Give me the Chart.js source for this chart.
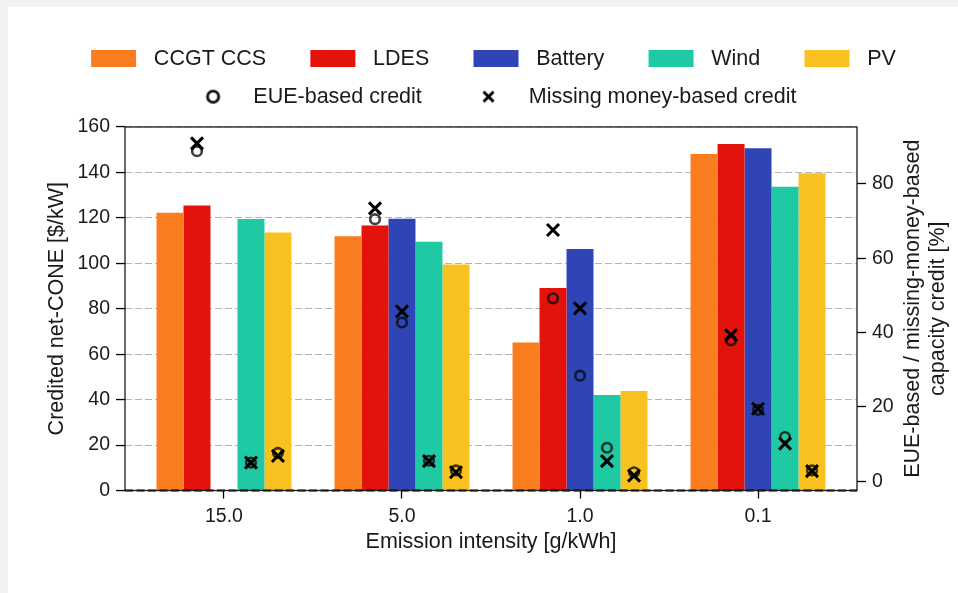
<!DOCTYPE html>
<html><head><meta charset="utf-8">
<script src="https://cdn.jsdelivr.net/npm/chart.js@4.4.1/dist/chart.umd.min.js"></script>
<style>
html,body{margin:0;padding:0;background:#f2f2f2;width:958px;height:593px;overflow:hidden}
#wrap{position:absolute;left:8px;top:7px;width:950px;height:586px;background:#fff}
canvas{display:block}
</style></head><body><div id="wrap"><canvas id="c" width="950" height="586"></canvas></div>
<script>
// ---- data ----
const categories = ['15.0', '5.0', '1.0', '0.1'];
const techNames = ['CCGT CCS', 'LDES', 'Battery', 'Wind', 'PV'];
const markerNames = ['EUE-based credit', 'Missing money-based credit'];

// credited net-CONE [$/kW]
const ccgtCone    = [122.3, 111.9, 65.1, 148.1];
const ldesCone    = [125.5, 116.6, 89.1, 152.5];
const batteryCone = [null,  119.6, 106.3, 150.7];
const windCone    = [119.5, 109.5, 42.0, 133.7];
const pvCone      = [113.6, 99.5,  43.8, 139.6];

// EUE-based capacity credit [%]
const ldesEUE    = [88.8, 70.5, 49.2, 37.9];
const batteryEUE = [null, 42.7, 28.4, 19.2];
const windEUE    = [5.0, 5.5, 9.0, 11.9];
const pvEUE      = [7.6, 2.9, 2.4, 2.9];

// missing-money-based capacity credit [%]
const ldesMM    = [90.9, 73.4, 67.6, 39.3];
const batteryMM = [null, 45.7, 46.5, 19.5];
const windMM    = [5.0, 5.4, 5.4, 10.1];
const pvMM      = [6.8, 2.4, 1.5, 2.7];

const leftTicks = [0, 20, 40, 60, 80, 100, 120, 140, 160];
const rightTicks = [0, 20, 40, 60, 80];
const xTitle = 'Emission intensity [g/kWh]';
const leftTitle = 'Credited net-CONE [$/kW]';
const rightTitle = ['EUE-based / missing-money-based', 'capacity credit [%]'];

// ---- styling ----
const techColors = ['#fa7d1f', '#e3130c', '#2f45b6', '#1fc9a3', '#f9c120'];
const FONT = '"Liberation Sans", Arial, sans-serif';
const TXT = '#1a1a1a';
const catPct = 0.758;
const slot = catPct / techNames.length;

const coneSeries = [ccgtCone, ldesCone, batteryCone, windCone, pvCone];
const eueSeries = [null, ldesEUE, batteryEUE, windEUE, pvEUE];
const mmSeries = [null, ldesMM, batteryMM, windMM, pvMM];

function markerPoints(series) {
  const pts = [];
  series.forEach((vals, j) => {
    if (!vals) return;
    vals.forEach((v, i) => {
      if (v !== null) pts.push({x: i + (j - (techNames.length - 1) / 2) * slot, y: v});
    });
  });
  return pts;
}

// legend images
const LW = 80, LOFF = 28, HW = 45;
function rectImg(color) {
  const c = document.createElement('canvas'); c.width = LW; c.height = 17;
  const g = c.getContext('2d'); g.fillStyle = color; g.fillRect(LOFF, 0, HW, 17);
  return c;
}
function circleImg() {
  const c = document.createElement('canvas'); c.width = LW; c.height = 20;
  const g = c.getContext('2d'); g.strokeStyle = '#111'; g.lineWidth = 2.8;
  g.beginPath(); g.arc(LOFF + HW / 2, 10, 5.6, 0, Math.PI * 2); g.stroke();
  return c;
}
function crossImg() {
  const c = document.createElement('canvas'); c.width = LW; c.height = 20;
  const g = c.getContext('2d'); g.strokeStyle = '#000'; g.lineWidth = 3;
  const cx = LOFF + HW / 2, r = 5;
  g.beginPath(); g.moveTo(cx - r, 10 - r); g.lineTo(cx + r, 10 + r);
  g.moveTo(cx + r, 10 - r); g.lineTo(cx - r, 10 + r); g.stroke();
  return c;
}
const legendImgs = techColors.map(rectImg).concat([circleImg(), crossImg()]);

const datasets = [];
datasets.push({
  type: 'scatter', label: markerNames[1], data: markerPoints(mmSeries),
  xAxisID: 'x', yAxisID: 'y2', order: -1,
  pointStyle: 'crossRot', radius: 8.5, borderColor: '#000', borderWidth: 3,
  backgroundColor: 'rgba(0,0,0,0)'
});
datasets.push({
  type: 'scatter', label: markerNames[0], data: markerPoints(eueSeries),
  xAxisID: 'x', yAxisID: 'y2', order: 0,
  pointStyle: 'circle', radius: 4.8, borderColor: 'rgba(10,10,10,0.78)', borderWidth: 2.6,
  backgroundColor: 'rgba(0,0,0,0)'
});
coneSeries.forEach((vals, j) => {
  datasets.push({
    type: 'bar', label: techNames[j],
    data: vals.map((v, i) => ({x: i, y: v})),
    backgroundColor: techColors[j], borderWidth: 0,
    xAxisID: 'x', yAxisID: 'y', order: 1,
    categoryPercentage: catPct, barPercentage: 1.0
  });
});

const legendGap = {
  id: 'legendGap',
  beforeLayout(chart) {
    const lg = chart.legend;
    if (lg && !lg._gapPatched) {
      const orig = lg.fit;
      lg.fit = function () { orig.call(this); this.height += 9.6; };
      lg._gapPatched = true;
    }
  }
};

const frame = {
  id: 'frame',
  afterDraw(chart) {
    const {ctx, chartArea: a, scales} = chart;
    ctx.save();
    // zero line (dashed black)
    const y0 = scales.y.getPixelForValue(0);
    ctx.strokeStyle = '#000'; ctx.lineWidth = 2; ctx.setLineDash([8, 3.5]);
    ctx.beginPath(); ctx.moveTo(a.left, y0); ctx.lineTo(a.right, y0); ctx.stroke();
    ctx.setLineDash([]);
    ctx.strokeStyle = '#1a1a1a'; ctx.lineWidth = 1.3;
    ctx.strokeRect(a.left, a.top, a.right - a.left, a.bottom - a.top);
    // right axis title, rotated like matplotlib
    const s = scales.y2;
    const cy = (a.top + a.bottom) / 2;
    ctx.font = '21.5px ' + FONT; ctx.fillStyle = TXT;
    ctx.textAlign = 'center'; ctx.textBaseline = 'middle';
    rightTitle.forEach((t, k) => {
      ctx.save(); ctx.translate(s.left + 56 + k * 25.2, cy); ctx.rotate(-Math.PI / 2);
      ctx.fillText(t, 0, 0); ctx.restore();
    });
    ctx.restore();
  }
};

new Chart(document.getElementById('c'), {
  type: 'bar',
  data: {datasets},
  plugins: [legendGap, frame],
  options: {
    responsive: false, animation: false, devicePixelRatio: 1, events: [],
    layout: {padding: {top: 25, left: 0, right: 7, bottom: 32.5}},
    plugins: {
      tooltip: {enabled: false},
      legend: {
        position: 'top', align: 'center',
        labels: {
          usePointStyle: true, pointStyleWidth: LW, boxHeight: 17,
          padding: 16.2, color: TXT, font: {family: FONT, size: 21.5},
          generateLabels: () => techNames.concat(markerNames).map((t, k) => ({
            text: t, pointStyle: legendImgs[k], fillStyle: 'rgba(0,0,0,0)',
            strokeStyle: 'rgba(0,0,0,0)', lineWidth: 0, hidden: false, fontColor: TXT, datasetIndex: k
          }))
        }
      }
    },
    scales: {
      x: {
        type: 'linear', position: 'bottom', offset: false,
        min: -0.556, max: categories.length - 1 + 0.556,
        afterBuildTicks: s => { s.ticks = categories.map((c, i) => ({value: i})); },
        afterFit: s => { s.height = 70; },
        grid: {offset: false, drawOnChartArea: false, drawTicks: true, tickLength: 8, tickColor: '#000', tickWidth: 1.3},
        border: {display: false},
        ticks: {color: TXT, font: {family: FONT, size: 19.5}, padding: 6, maxRotation: 0,
          callback: v => categories[v]},
        title: {display: true, text: xTitle, color: TXT, font: {family: FONT, size: 21.5},
          padding: {top: 0, bottom: 5.6}}
      },
      y: {
        position: 'left', min: 0, max: 160, z: 1,
        afterBuildTicks: s => { s.ticks = leftTicks.map(v => ({value: v})); },
        afterFit: s => { s.width = 117; },
        grid: {color: '#b4b4b4', lineWidth: 1.1, drawTicks: true, tickLength: 9, tickColor: '#000', tickWidth: 1.3},
        border: {display: false, dash: [7, 3]},
        ticks: {color: TXT, font: {family: FONT, size: 19.5}, padding: 6},
        title: {display: true, text: leftTitle, color: TXT, font: {family: FONT, size: 21.5},
          padding: {top: 36, bottom: 0}}
      },
      y2: {
        position: 'right', min: -2.5, max: 95.3,
        afterBuildTicks: s => { s.ticks = rightTicks.map(v => ({value: v})); },
        afterFit: s => { s.width = 94; },
        grid: {drawOnChartArea: false, drawTicks: true, tickLength: 9, tickColor: '#000', tickWidth: 1.3},
        border: {display: false},
        ticks: {color: TXT, font: {family: FONT, size: 19.5}, padding: 6},
        title: {display: false}
      }
    }
  }
});
</script></body></html>
